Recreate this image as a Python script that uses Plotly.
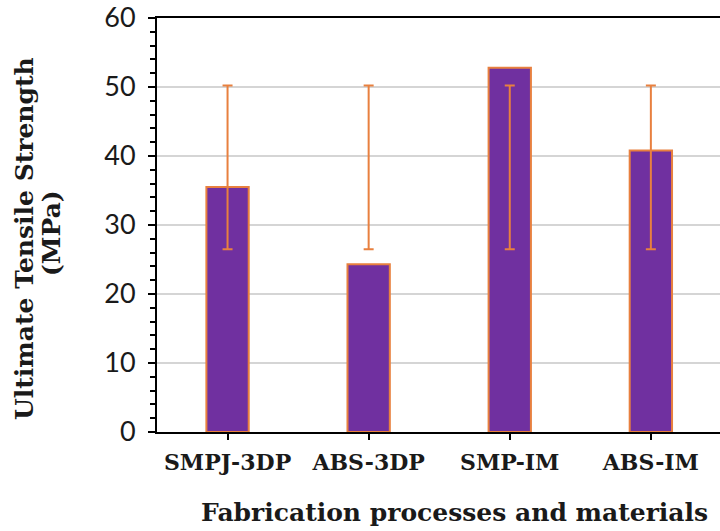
import plotly.graph_objects as go

categories = ["SMPJ-3DP", "ABS-3DP", "SMP-IM", "ABS-IM"]
strength = [35.5, 24.3, 52.8, 40.8]
err_low = [26.5, 26.5, 26.5, 26.5]
err_high = [50.2, 50.2, 50.2, 50.2]

PURPLE = "#7030A0"
ORANGE = "#E8803F"
SERIF = "DejaVu Serif"
TXT = "#1a1a1a"

mid = [(a + b) / 2 for a, b in zip(err_low, err_high)]
half = [(b - a) / 2 for a, b in zip(err_low, err_high)]

fig = go.Figure()
fig.add_trace(go.Bar(
    x=categories, y=strength, width=0.3,
    marker=dict(color=PURPLE, line=dict(color=ORANGE, width=2)),
    showlegend=False,
))
fig.add_trace(go.Scatter(
    x=categories, y=mid, mode="markers",
    marker=dict(size=1, opacity=0),
    error_y=dict(type="data", array=half, symmetric=True,
                 color=ORANGE, thickness=2, width=5),
    showlegend=False, hoverinfo="skip",
))

def py(pix):
    return (432 - pix) / 414

def px(pix):
    return (pix - 157) / 563

fig.update_layout(
    width=720, height=531,
    margin=dict(l=157, r=0, t=18, b=99),
    plot_bgcolor="white", paper_bgcolor="white",
    xaxis=dict(
        range=[-0.5, 3.49],
        showline=True, linecolor="black", linewidth=2, mirror=True,
        ticks="outside", ticklen=6, tickcolor="black", tickwidth=2,
        tickfont=dict(family=SERIF, size=22, color=TXT, weight="bold"),
        showgrid=False,
        ticklabelstandoff=4,
    ),
    yaxis=dict(
        range=[0, 60], dtick=10,
        showline=True, linecolor="black", linewidth=2,
        ticks="outside", ticklen=7, tickcolor="black", tickwidth=2,
        minor=dict(dtick=2, ticks="outside", ticklen=5, tickcolor="black", tickwidth=2, showgrid=False),
        tickfont=dict(family="Lato", size=27, color=TXT),
        showgrid=True, gridcolor="#D5D5D5", gridwidth=1.5,
        zeroline=False,
        ticklabelstandoff=7,
    ),
    annotations=[
        dict(text="Ultimate Tensile Strength", textangle=-90,
             xref="paper", yref="paper",
             x=px(25), y=py(239),
             xanchor="center", yanchor="middle", showarrow=False,
             font=dict(family=SERIF, size=25, color=TXT, weight="bold")),
        dict(text="(MPa)", textangle=-90,
             xref="paper", yref="paper",
             x=px(51), y=py(233),
             xanchor="center", yanchor="middle", showarrow=False,
             font=dict(family=SERIF, size=25, color=TXT, weight="bold")),
        dict(text="Fabrication processes and materials",
             xref="paper", yref="paper",
             x=px(454), y=py(512),
             xanchor="center", yanchor="middle", showarrow=False,
             font=dict(family=SERIF, size=25, color=TXT, weight="bold")),
    ],
)

fig.write_html("out.html")
